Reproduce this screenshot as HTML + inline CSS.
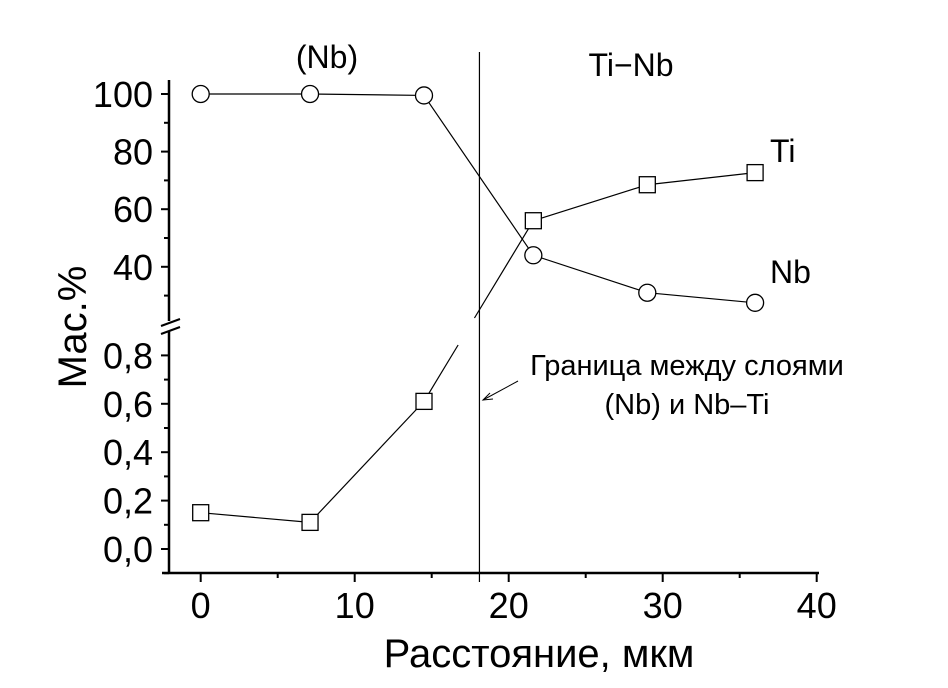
<!DOCTYPE html>
<html><head><meta charset="utf-8"><style>
html,body{margin:0;padding:0;background:#fff;}
svg{display:block;font-family:"Liberation Sans",sans-serif;}
</style></head><body>
<svg id="chart" width="948" height="688" viewBox="0 0 948 688"></svg>
<script>
const xValues = [0, 7.1, 14.5, 21.6, 29, 36];
const nbValues = [100, 100, 99.5, 44, 31, 27.5];
const tiValues = [0.15, 0.11, 0.61, 56, 68.5, 72.7];
const xTicks = [0, 10, 20, 30, 40];
const upperTicks = [40, 60, 80, 100];
const lowerTicks = ["0,0", "0,2", "0,4", "0,6", "0,8"];
const lowerTickValues = [0, 0.2, 0.4, 0.6, 0.8];
const boundaryX = 18.1;

const NS = "http://www.w3.org/2000/svg";
const svg = document.getElementById("chart");
function el(tag, attrs, parent) {
  const e = document.createElementNS(NS, tag);
  for (const k in attrs) e.setAttribute(k, attrs[k]);
  (parent || svg).appendChild(e);
  return e;
}
const X = v => 200.7 + v * 15.4;
const Y = v => v >= 5 ? 94 + (100 - v) * 2.88 : 549 - v * 242;

const axes = el("g", {stroke: "#000", "stroke-width": 2.5, fill: "none"});


el("line", {x1: 169, y1: 80, x2: 169, y2: 321}, axes);
el("line", {x1: 169, y1: 331, x2: 169, y2: 574}, axes);
el("line", {x1: 162, y1: 573, x2: 819, y2: 573}, axes);
el("line", {x1: 161, y1: 326, x2: 180, y2: 319, "stroke-width": 2}, axes);
el("line", {x1: 161, y1: 334, x2: 180, y2: 327, "stroke-width": 2}, axes);

xTicks.forEach((t, i) => {
  el("line", {x1: X(t), y1: 573, x2: X(t), y2: 582, stroke: "#000", "stroke-width": 2});
  if (i < xTicks.length - 1) el("line", {x1: X(t + 5), y1: 573, x2: X(t + 5), y2: 578, stroke: "#000", "stroke-width": 2});
  const tx = el("text", {x: X(t), y: 618, "font-size": 36, "text-anchor": "middle"});
  
  
  tx.textContent = t;
});

upperTicks.forEach(t => {
  el("line", {x1: 161, y1: Y(t), x2: 169, y2: Y(t), stroke: "#000", "stroke-width": 2});
  el("line", {x1: 164, y1: Y(t - 10), x2: 169, y2: Y(t - 10), stroke: "#000", "stroke-width": 2});
  const tx = el("text", {x: 153, y: Y(t) + 13, "font-size": 36, "text-anchor": "end"});
  
  
  tx.textContent = t;
});
lowerTickValues.forEach((t, i) => {
  el("line", {x1: 161, y1: Y(t), x2: 169, y2: Y(t), stroke: "#000", "stroke-width": 2});
  el("line", {x1: 164, y1: Y(t - 0.1), x2: 169, y2: Y(t - 0.1), stroke: "#000", "stroke-width": 2});
  const tx = el("text", {x: 153, y: Y(t) + 13, "font-size": 36, "text-anchor": "end"});
  
  
  tx.textContent = lowerTicks[i];
});

const bl = el("line", {x1: X(boundaryX), y1: 52, x2: X(boundaryX), y2: 582, stroke: "#000", "stroke-width": 1.2});



const nbPts = xValues.map((x, i) => [X(x), Y(nbValues[i])]);
const nbLine = el("polyline", {points: nbPts.map(p => p.join(",")).join(" "), fill: "none", stroke: "#000", "stroke-width": 1.2});



const tiPts = xValues.map((x, i) => [X(x), Y(tiValues[i])]);
for (let i = 0; i < tiPts.length - 1; i++) {
  const [a, b] = [tiPts[i], tiPts[i + 1]];
  const crosses = (tiValues[i] < 5) !== (tiValues[i + 1] < 5);
  if (crosses) {
    const f1 = (a[1] - 345) / (a[1] - b[1]);
    const f2 = (a[1] - 318) / (a[1] - b[1]);
    const seg1 = el("line", {x1: a[0], y1: a[1], x2: a[0] + (b[0] - a[0]) * f1, y2: 345, stroke: "#000", "stroke-width": 1.2});
    
    
    const seg2 = el("line", {x1: a[0] + (b[0] - a[0]) * f2, y1: 318, x2: b[0], y2: b[1], stroke: "#000", "stroke-width": 1.2});
    
    
  } else {
    const seg = el("line", {x1: a[0], y1: a[1], x2: b[0], y2: b[1], stroke: "#000", "stroke-width": 1.2});
    
    
  }
}
nbPts.forEach(p => {
  const c = el("circle", {cx: p[0], cy: p[1], r: 8.5, fill: "#fff", stroke: "#000", "stroke-width": 1.3});
  
  
});
tiPts.forEach(p => {
  const r = el("rect", {x: p[0] - 8, y: p[1] - 8, width: 16, height: 16, fill: "#fff", stroke: "#000", "stroke-width": 1.3});
  
  
});

const ar = el("g", {stroke: "#000", "stroke-width": 1, fill: "none"});


el("line", {x1: 518, y1: 381, x2: 483, y2: 400}, ar);
el("polyline", {points: "490,393 483,400 493,399"}, ar);

function label(txt, x, y, size, name, anchor) {
  const t = el("text", {x: x, y: y, "font-size": size, "text-anchor": anchor || "start"});
  
  
  t.textContent = txt;
  return t;
}
label("(Nb)", 327, 68, 32, "region-label-nb", "middle");
label("Ti\u2212Nb", 631, 76, 32, "region-label-tinb", "middle");
label("Ti", 770, 162, 32, "series-label-ti");
label("Nb", 770, 283, 32, "series-label-nb");
label("Граница между слоями", 687, 375, 29, "annotation-line1", "middle");
label("(Nb) и Nb\u2013Ti", 687, 414, 29, "annotation-line2", "middle");
label("Расстояние, мкм", 539, 667, 40, "x-axis-title", "middle");
const yt = label("Мас.%", 0, 0, 40, "y-axis-title", "middle");
yt.setAttribute("transform", "translate(86,327) rotate(-90)");
</script>
</body></html>
